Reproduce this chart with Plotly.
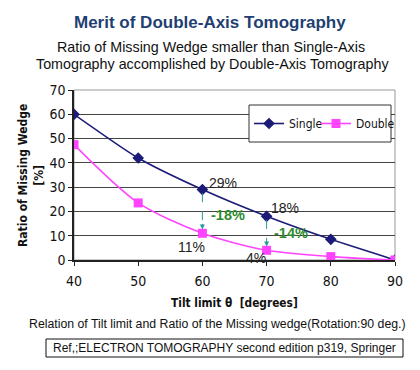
import plotly.graph_objects as go

tilt = [40, 50, 60, 70, 80, 90]
single = [60, 42, 29, 18, 8.5, 0]
double = [47.5, 23.5, 11, 4, 1.4, 0]
y_ticks = [0, 10, 20, 30, 40, 50, 60, 70]
x_ticks = [40, 50, 60, 70, 80, 90]
arrow_x = [60, 70]
diff_labels = ["-18%", "-14%"]
single_labels = ["29%", "18%"]
double_labels = ["11%", "4%"]

NARROW = "Liberation Sans Narrow, DejaVu Sans Condensed, sans-serif"
SANS = "Liberation Sans, Arial, sans-serif"

# The page shows the figure offset by 8px (body margin): work in screen pixels
OFF = 8
SW, SH = 420, 370
PL, PR, PT, PB = 74, 395, 90, 260  # plot area in screen pixels
W, H = SW - OFF, SH - OFF

def sp(xs, ys):
    return (xs - PL) / (PR - PL), (PB - ys) / (PB - PT)

fig = go.Figure()
fig.add_trace(go.Scatter(x=tilt, y=single, name="Single", mode="lines+markers", legend="legend",
                         line=dict(color="#1C1C78", width=1.6, shape="spline", smoothing=0.6),
                         marker=dict(symbol="diamond", size=9, color="#1C1C78")))
fig.add_trace(go.Scatter(x=tilt, y=double, name="Double", mode="lines+markers", legend="legend2",
                         line=dict(color="#FF44FF", width=1.6, shape="spline", smoothing=0.8),
                         marker=dict(symbol="square", size=9, color="#FF44FF")))

ann = []
for xv in arrow_x:
    idx = tilt.index(xv)
    fig.add_shape(type="line", x0=xv, x1=xv, y0=single[idx] - 1.5, y1=double[idx] + 2.5,
                  line=dict(color="#2A9A9A", width=1, dash="dash"))
    ann.append(dict(x=xv, y=double[idx] + 1.6, ax=xv, ay=double[idx] + 4.5, xref="x", yref="y",
                    axref="x", ayref="y", showarrow=True, arrowhead=2, arrowsize=1,
                    arrowwidth=1, arrowcolor="#2A9A9A", text=""))

lab_pos_single = [(63.2, 31.8), (72.8, 21.4)]
lab_pos_double = [(58.3, 5.3), (68.3, 0.9)]
diff_pos = [(64.0, 18.4), (73.8, 11.0)]
for t, (xx, yy) in zip(single_labels, lab_pos_single):
    ann.append(dict(x=xx, y=yy, xref="x", yref="y", text=t, showarrow=False,
                    font=dict(size=14, color="#222", family=SANS)))
for t, (xx, yy) in zip(double_labels, lab_pos_double):
    ann.append(dict(x=xx, y=yy, xref="x", yref="y", text=t, showarrow=False,
                    font=dict(size=14, color="#222", family=SANS)))
for t, (xx, yy) in zip(diff_labels, diff_pos):
    ann.append(dict(x=xx, y=yy, xref="x", yref="y", text="<b>" + t + "</b>", showarrow=False,
                    font=dict(size=14.5, color="#2E8B2E", family=SANS)))

def add_text(xs, ys, text, size, color="#111", family=SANS, angle=0):
    xx, yy = sp(xs, ys)
    ann.append(dict(x=xx, y=yy, xref="paper", yref="paper", text=text, showarrow=False,
                    textangle=angle, font=dict(size=size, color=color, family=family),
                    xanchor="center", yanchor="middle"))

add_text(210, 22, "<b>Merit of Double-Axis Tomography</b>", 17, "#1F3F73")
add_text(211, 47, "Ratio of Missing Wedge smaller than Single-Axis", 14.3)
add_text(212, 64, "Tomography accomplished by Double-Axis Tomography", 14.3)
add_text(234, 303, "<b>Tilt limit θ  [degrees]</b>", 11.8, "#111", NARROW)
add_text(217, 324, "Relation of Tilt limit and Ratio of the Missing wedge(Rotation:90 deg.)", 12.3)
add_text(224, 348, "Ref,;ELECTRON TOMOGRAPHY second edition p319, Springer", 12)
add_text(31, 176, "<b>Ratio of Missing Wedge<br>[%]</b>", 12, "#111", NARROW, angle=-90)

# reference box
x0, y0 = sp(46, 357)
x1, y1 = sp(403, 339)
fig.add_shape(type="rect", xref="paper", yref="paper", x0=x0, x1=x1, y0=y0, y1=y1,
              line=dict(color="#111", width=1), fillcolor="rgba(0,0,0,0)")
# legend box
x0, y0 = sp(249, 142)
x1, y1 = sp(391, 105)
fig.add_shape(type="rect", xref="paper", yref="paper", x0=x0, x1=x1, y0=y0, y1=y1,
              line=dict(color="#333", width=1), fillcolor="white", layer="above")
# gray frame for plot area
fig.add_shape(type="rect", xref="paper", yref="paper", x0=0, x1=1, y0=0, y1=1,
              line=dict(color="#999", width=1), layer="below")

lx1, ly = sp(249, 123.5)
lx2, _ = sp(316, 123.5)
leg_common = dict(orientation="h", y=ly, xanchor="left", yanchor="middle",
                  bgcolor="rgba(0,0,0,0)", borderwidth=0,
                  font=dict(size=12, color="#111", family=NARROW))
fig.update_layout(
    annotations=ann,
    width=W, height=H,
    margin=dict(l=PL - OFF, r=W - (PR - OFF), t=PT - OFF, b=H - (PB - OFF), autoexpand=False),
    paper_bgcolor="white", plot_bgcolor="white",
    showlegend=True,
    legend=dict(x=lx1, **leg_common),
    legend2=dict(x=lx2, **leg_common),
    xaxis=dict(range=[40, 90], tickvals=x_ticks, showgrid=False, zeroline=False,
               showline=True, linecolor="#222", linewidth=1.5, automargin=False,
               ticks="outside", ticklen=4, tickcolor="#222", ticklabelstandoff=3,
               tickfont=dict(size=14, color="#111", family=NARROW)),
    yaxis=dict(range=[0, 70], tickvals=y_ticks, showgrid=True, gridcolor="#444", gridwidth=1,
               zeroline=False, showline=True, linecolor="#222", linewidth=1.5, automargin=False,
               ticks="outside", ticklen=4, tickcolor="#222",
               tickfont=dict(size=14, color="#111", family=NARROW)),
)

fig.write_html("out.html")
